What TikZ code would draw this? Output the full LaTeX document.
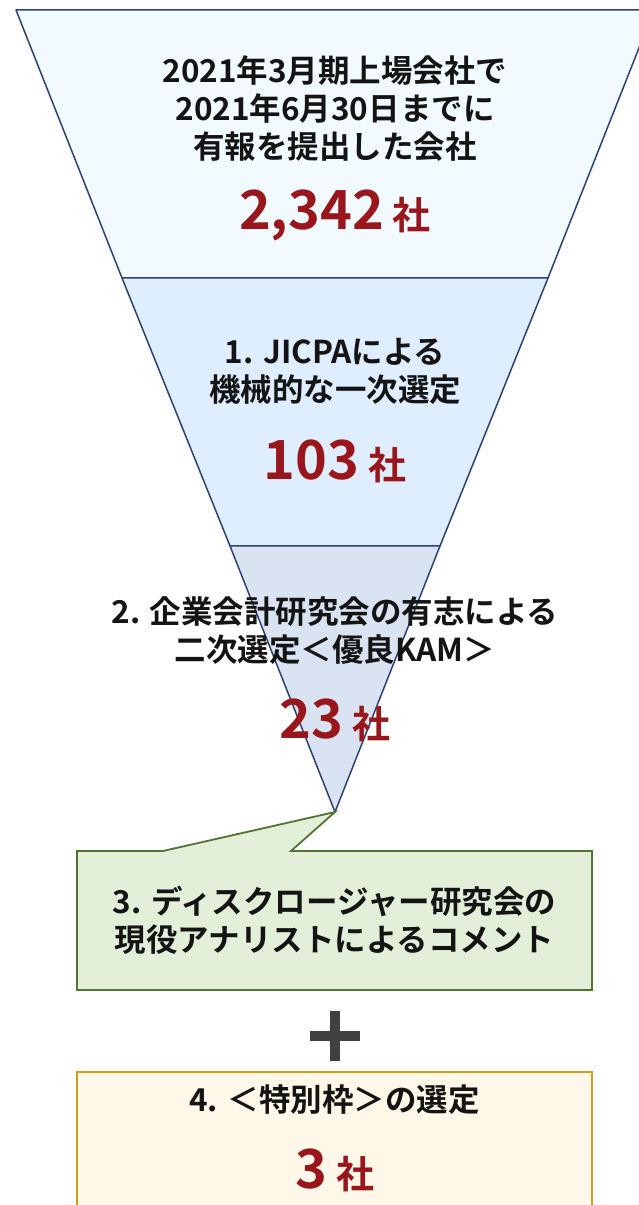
\documentclass[tikz,border=0pt]{standalone}
\usepackage{fontspec}
\setmainfont{Noto Sans CJK JP}[BoldFont={Noto Sans CJK JP Bold}]
\usetikzlibrary{positioning}

\begin{document}
\begin{tikzpicture}[x=1pt,y=1pt,
  caption/.style={text=textColor,font=\bfseries\fontsize{31.5}{38}\selectfont,align=center,inner sep=0pt,outer sep=0pt},
  count/.style={text=countColor,font=\bfseries,anchor=center,inner sep=0pt,outer sep=0pt}]
\definecolor[named]{textColor}{rgb}{0.08,0.08,0.08}
\definecolor[named]{countColor}{rgb}{0.60,0.09,0.11}
\path[use as bounding box,fill=white] (0,0) rectangle (639,1205);
\begin{scope}
\path[clip] (  0.00,  0.00) rectangle (639.00,1205.00);
\definecolor[named]{drawColor}{rgb}{0.18,0.26,0.45}
\definecolor[named]{fillColor}{rgb}{0.94,0.98,1.00}

\path[draw=drawColor,line width= 1.5pt,line join=round,fill=fillColor] ( 16.00,1195.00) -- (654.00,1195.00) -- (548.00,927.00) -- (122.00,927.00) -- cycle;
\definecolor[named]{fillColor}{rgb}{0.87,0.93,1.00}

\path[draw=drawColor,line width= 1.5pt,line join=round,fill=fillColor] (122.00,927.00) -- (548.00,927.00) -- (440.00,659.00) -- (230.00,659.00) -- cycle;
\definecolor[named]{fillColor}{rgb}{0.85,0.89,0.95}

\path[draw=drawColor,line width= 1.5pt,line join=round,fill=fillColor] (230.00,659.00) -- (440.00,659.00) -- (335.00,393.00) -- cycle;

\node[caption] (listed) at (335.00,1096.00) {2021年3月期上場会社で\\2021年6月30日までに\\有報を提出した会社};

\node[count] (listedCount) at (335.00, 990.00) {{\fontsize{54}{60}\selectfont 2,342}\hspace{9pt}{\fontsize{38}{44}\selectfont 社}};

\node[caption] (firstPick) at (335.00, 834.00) {1. JICPAによる\\機械的な一次選定};

\node[count] (firstCount) at (335.00, 744.00) {{\fontsize{54}{60}\selectfont 103}\hspace{9pt}{\fontsize{38}{44}\selectfont 社}};

\node[caption] (secondPick) at (335.00, 574.00) {2. 企業会計研究会の有志による\\二次選定＜優良KAM＞};

\node[count] (secondCount) at (335.00, 485.00) {{\fontsize{54}{60}\selectfont 23}\hspace{9pt}{\fontsize{38}{44}\selectfont 社}};
\end{scope}
\begin{scope}
\path[clip] (  0.00,  0.00) rectangle (639.00,1205.00);
\definecolor[named]{drawColor}{rgb}{0.33,0.45,0.20}
\definecolor[named]{fillColor}{rgb}{0.89,0.94,0.85}

\path[draw=drawColor,line width= 1.8pt,line join=miter,fill=fillColor] ( 77.00,354.00) -- (163.00,354.00) -- (335.00,393.00) -- (291.00,354.00) -- (592.00,354.00) -- (592.00,215.00) -- ( 77.00,215.00) -- cycle;

\node[caption] (analyst) at (334.50, 285.00) {3. ディスクロージャー研究会の\\現役アナリストによるコメント};
\definecolor[named]{fillColor}{rgb}{0.25,0.25,0.25}

\path[fill=fillColor] (310.00,164.00) rectangle (360.00,174.00);

\path[fill=fillColor] (330.00,144.00) rectangle (340.00,194.00);
\definecolor[named]{drawColor}{rgb}{0.80,0.62,0.10}
\definecolor[named]{fillColor}{rgb}{1.00,0.97,0.91}

\path[draw=drawColor,line width= 1.8pt,line join=miter,fill=fillColor] ( 77.00, -5.00) rectangle (592.00,133.00);

\node[caption] (specialPick) at (334.50, 105.00) {4. ＜特別枠＞の選定};

\node[count] (specialCount) at (335.00,  35.00) {{\fontsize{54}{60}\selectfont 3}\hspace{9pt}{\fontsize{38}{44}\selectfont 社}};
\end{scope}
\end{tikzpicture}
\end{document}
